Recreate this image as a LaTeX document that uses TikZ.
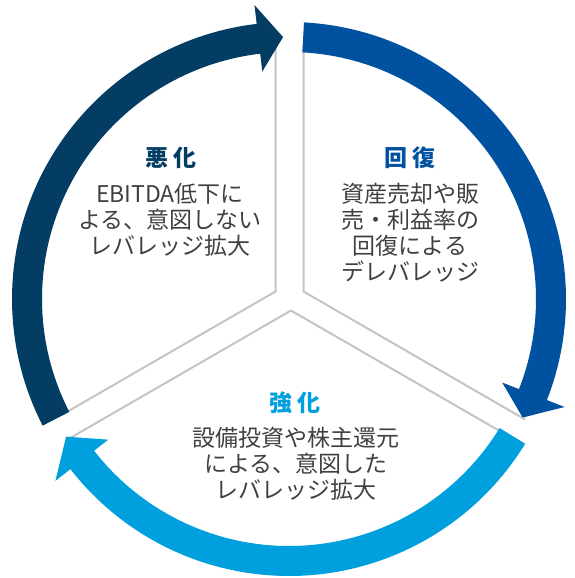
\documentclass[tikz,border=0pt]{standalone}
\usepackage{fontspec}
\setmainfont{Noto Sans CJK JP}
\definecolor{navy}{RGB}{4,61,100}
\definecolor{midblue}{RGB}{0,81,160}
\definecolor{lightblue}{RGB}{0,159,222}
\definecolor{txtgray}{RGB}{64,64,64}
\definecolor{linegray}{RGB}{196,196,196}
\tikzset{
  wedgeline/.style={draw=linegray, line width=2pt},
  titletext/.style={inner sep=0pt, font=\fontsize{23}{26}\selectfont\bfseries},
  bodytext/.style={inner sep=0pt, align=center, text=txtgray, font=\fontsize{23}{26}\selectfont}
}
\begin{document}
\begin{tikzpicture}[x=1pt,y=1pt]
\useasboundingbox (0,0) rectangle (574,-578);
\coordinate (c) at (289,-299);
% sector outlines
\coordinate (Lc) at (275.5,-291.5);
\coordinate (Lt) at (275.5,-45);
\coordinate (Lb) at (63.3,-414);
\coordinate (Rc) at (303.5,-291.5);
\coordinate (Rt) at (303.5,-45);
\coordinate (Rb) at (525.2,-419.5);
\coordinate (Bc) at (291,-310.5);
\coordinate (Bl) at (67.6,-439.5);
\coordinate (Br) at (514.4,-439.5);
\draw[wedgeline] (Lt) -- (Lc) -- (Lb);
\draw[wedgeline] (Rt) -- (Rc) -- (Rb);
\draw[wedgeline] (Bl) -- (Bc) -- (Br);
% dark arrow (悪化)
\fill[navy] ([shift={(c)}]207.2:277) arc[start angle=207.2, end angle=96.7, radius=277]
  -- ([shift={(c)}]96.7:296) -- ([shift={(c)}]91.3:262) -- ([shift={(c)}]96.7:229)
  -- ([shift={(c)}]96.7:247) arc[start angle=96.7, end angle=207.2, radius=247] -- cycle;
% blue arrow (回復)
\fill[midblue] ([shift={(c)}]86.9:277) arc[start angle=86.9, end angle=-21.4, radius=277]
  -- ([shift={(c)}]-21.4:296) -- ([shift={(c)}]-26.9:262) -- ([shift={(c)}]-21.4:229)
  -- ([shift={(c)}]-21.4:247) arc[start angle=-21.4, end angle=86.9, radius=247] -- cycle;
% light blue arrow (強化)
\fill[lightblue] ([shift={(c)}]-31.5:277) arc[start angle=-31.5, end angle=-142.1, radius=277]
  -- ([shift={(c)}]-142.1:296) -- ([shift={(c)}]-148.3:262) -- ([shift={(c)}]-142.1:229)
  -- ([shift={(c)}]-142.1:247) arc[start angle=-142.1, end angle=-31.5, radius=247] -- cycle;
% texts
\node[titletext, text=navy] (t1) at (171,-158) {悪\kern5pt化};
\node[bodytext] (b1) at (170,-220) {EBITDA低下に\\よる、意図しない\\レバレッジ拡大};
\node[titletext, text=midblue] (t2) at (410,-158) {回\kern5pt復};
\node[bodytext] (b2) at (410,-232.5) {資産売却や販\\売・利益率の\\回復による\\デレバレッジ};
\node[titletext, text=lightblue] (t3) at (295,-403) {強\kern5pt化};
\node[bodytext] (b3) at (296,-464) {設備投資や株主還元\\による、意図した\\レバレッジ拡大};
\end{tikzpicture}
\end{document}
